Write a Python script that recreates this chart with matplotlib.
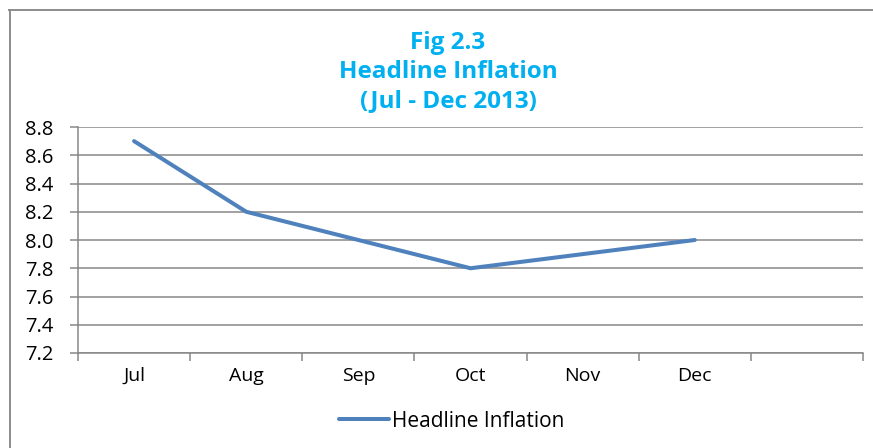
import matplotlib.pyplot as plt
import numpy as np
from matplotlib.lines import Line2D

# headline inflation, Jul - Dec 2013 (one empty slot after Dec)
months = ['Jul', 'Aug', 'Sep', 'Oct', 'Nov', 'Dec', '']
inflation = [8.7, 8.2, 8.0, 7.8, 7.9, 8.0]
yticks = [7.2, 7.4, 7.6, 7.8, 8.0, 8.2, 8.4, 8.6, 8.8]

plt.rcParams['font.family'] = ['Open Sans', 'DejaVu Sans']

fig = plt.figure(figsize=(8.73, 4.48), dpi=100)
ax = fig.add_axes([78 / 873, 1 - 353 / 448, (863 - 78) / 873, (353 - 127) / 448])

grid_c = '#878787'
x = np.arange(len(inflation))
ax.plot(x, inflation, color='#4F81BD', lw=2.9, solid_capstyle='round',
        label='Headline Inflation', zorder=3)

ax.set_xlim(-0.5, len(months) - 0.5)
ax.set_ylim(yticks[0], yticks[-1])
ax.set_yticks(yticks)
ax.set_yticklabels(['%.1f' % v for v in yticks])
ax.yaxis.grid(True, color=grid_c, lw=1.1)

# category boundaries get the tick marks, names sit in between
ax.set_xticks(np.arange(-0.5, len(months), 1.0))
ax.set_xticklabels([])
ax.set_xticks(np.arange(len(months)), minor=True)
ax.set_xticklabels(months, minor=True)
ax.tick_params(axis='x', which='major', length=6, color=grid_c, width=1.1)
ax.tick_params(axis='x', which='minor', length=0, pad=10, labelsize=14)
ax.tick_params(axis='y', length=6, color=grid_c, width=1.1, labelsize=14.5, pad=12)

for s in ['top', 'right']:
    ax.spines[s].set_visible(False)
ax.spines['left'].set_color(grid_c)
ax.spines['bottom'].set_color(grid_c)
ax.spines['left'].set_linewidth(1.1)
ax.spines['bottom'].set_linewidth(1.1)

fig.text(448 / 873, 1 - 72 / 448, 'Fig 2.3\nHeadline Inflation\n(Jul - Dec 2013)',
         ha='center', va='center', color='#00B0F0', fontsize=17.5,
         fontweight='bold', linespacing=1.3)

fig.legend(loc='center', bbox_to_anchor=(452 / 873, 1 - 421 / 448), frameon=False,
           fontsize=15, handlelength=2.4, handletextpad=0.15)

# chart frame
fig.add_artist(Line2D([9.5 / 873, 9.5 / 873], [0, 1 - 10 / 448], color='#8c8c8c', lw=1.4))
fig.add_artist(Line2D([9 / 873, 1], [1 - 10.5 / 448, 1 - 10.5 / 448], color='#8c8c8c', lw=1.4))

fig.savefig('out.png', dpi=100, facecolor='white')
